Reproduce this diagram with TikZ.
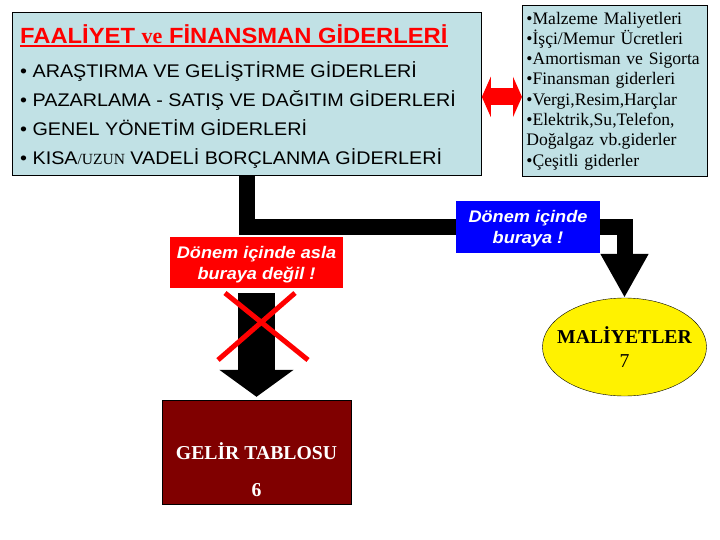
\documentclass[tikz,border=0pt]{standalone}
\usepackage{fontspec}
\setmainfont{Liberation Serif}
\setsansfont[FakeStretch=1.08]{Liberation Sans}
\usetikzlibrary{arrows.meta, positioning, shapes.geometric}
\definecolor{buz}{RGB}{193,225,229}
\definecolor{bordo}{RGB}{128,0,0}
\newcommand{\altciz}[1]{\setbox0\hbox{#1}\rlap{\raisebox{-3.5pt}{\rule{\wd0}{1.6pt}}}\box0}

\begin{document}
\begin{tikzpicture}[x=1pt, y=-1pt,
  kutu/.style={draw, fill=buz, line width=0.8pt, inner ysep=0pt, align=left},
  etiket/.style={inner sep=0pt, text=white, align=center,
              font=\sffamily\bfseries\itshape\fontsize{16.8}{21}\selectfont},
  bigarrow/.style={line width=16pt, -{Triangle[length=44pt, width=45pt]}},
  fatarrow/.style={line width=37pt, -{Triangle[length=27pt, width=73pt]}},
  ciftok/.style={red, line width=17pt, {Triangle[length=9pt, width=40pt]}-{Triangle[length=9pt, width=40pt]}},
  carpi/.style={red, line width=5pt},
]
\useasboundingbox (0,0) rectangle (720,540);

% Kutular
\node[kutu, anchor=north west, minimum width=469pt, minimum height=163pt] (giderler) at (12,12) {};
\node[anchor=north west, inner sep=0pt, align=left,
      font=\sffamily\fontsize{18.3}{29}\selectfont] (maddeler) at (20,24)
  {{\fontsize{22}{24}\selectfont\bfseries\color{red}\altciz{FAALİYET {\rmfamily ve} FİNANSMAN GİDERLERİ}}\\[5pt]
   • ARAŞTIRMA VE GELİŞTİRME GİDERLERİ\\
   • PAZARLAMA - SATIŞ VE DAĞITIM GİDERLERİ\\
   • GENEL YÖNETİM GİDERLERİ\\
   • KISA{\rmfamily\fontsize{15.5}{15}\selectfont/UZUN} VADELİ BORÇLANMA GİDERLERİ};

\node[kutu, anchor=north west, text width=177pt, inner xsep=4pt, minimum height=171pt,
      font=\rmfamily\fontsize{17.6}{20.3}\selectfont] (bilgi) at (522,5)
  {•Malzeme Maliyetleri\\
   •İşçi/Memur Ücretleri\\
   •Amortisman ve Sigorta\\
   •Finansman giderleri\\
   •Vergi,Resim,Harçlar\\
   •Elektrik,Su,Telefon,\\
   Doğalgaz vb.giderler\\
   •Çeşitli giderler};

% Sonuçlar
\node[draw, fill=yellow, ellipse, minimum width=164pt, minimum height=98pt, inner sep=0pt,
      label={[align=center, font=\rmfamily\fontsize{19.7}{24}\selectfont]center:{\bfseries MALİYETLER\\7}}]
  (maliyet) at (624.5,347) {};
\node[draw, fill=bordo, minimum width=189pt, minimum height=104pt, inner sep=0pt,
      align=center, text=white, font=\rmfamily\bfseries\fontsize{19.7}{37}\selectfont] (gelir) at (256.5,452)
  {~\\[16pt]GELİR TABLOSU\\6};

% Oklar
\coordinate (okbas) at ([yshift=-3pt]giderler.east);
\draw[ciftok] (okbas) -- (okbas -| bilgi.west);
\draw[bigarrow] (giderler.south) -- ++(0,51.5) -| (maliyet.north);

% Etiketler
\node[etiket, fill=blue, minimum width=144pt, minimum height=52pt, text depth=0pt] (buraya) at (528,227)
  {Dönem içinde\\buraya !};
\node[etiket, fill=red, minimum width=173pt, minimum height=51pt, text depth=0pt] (asla) at (256.5,262.5)
  {Dönem içinde asla\\buraya değil !};

\draw[fatarrow, shorten <=5pt, shorten >=3pt] (asla) -- (gelir);
\draw[carpi] (218,360) -- (295,293) (225,293) -- (308,360);

\end{tikzpicture}
\end{document}
